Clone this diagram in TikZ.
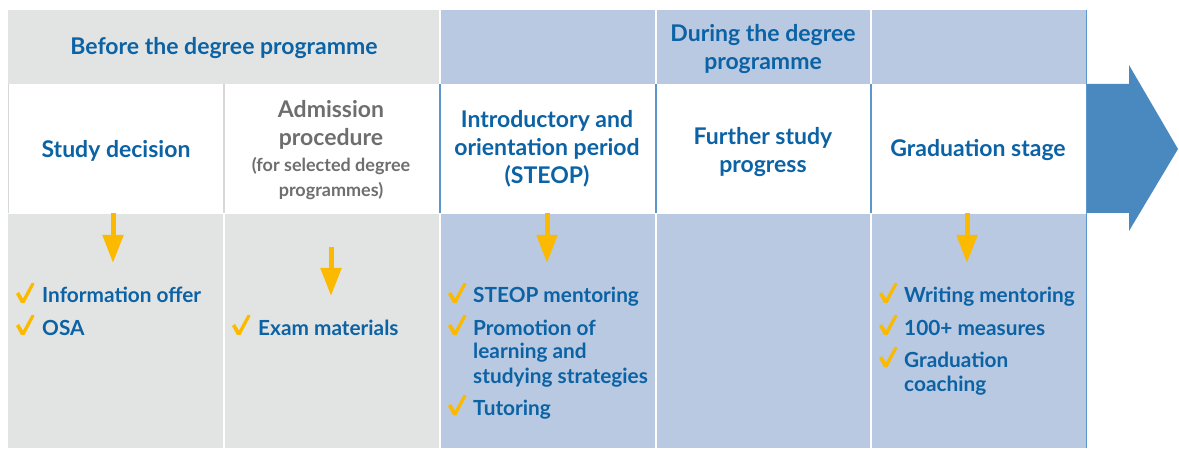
\documentclass[tikz,border=0pt]{standalone}
\usepackage{fontspec}
\setmainfont{Lato}
\usetikzlibrary{arrows.meta}
\definecolor{tblue}{HTML}{0B62A4}
\definecolor{tgray}{HTML}{6E6E6E}
\definecolor{fgray}{HTML}{E2E4E3}
\definecolor{fblue}{HTML}{B8C9E1}
\definecolor{lblue}{HTML}{5B96CC}
\definecolor{lgray}{HTML}{D8D8D8}
\definecolor{arrowblue}{HTML}{4A89BF}
\definecolor{tyellow}{HTML}{FBB900}
\newcommand{\clns}[1]{\begin{tabular}[t]{@{}c@{}}#1\end{tabular}}
\newcommand{\llns}[1]{\begin{tabular}[t]{@{}l@{}}#1\end{tabular}}
\tikzset{
  hdr/.style={text=tblue, inner sep=0pt, anchor=base, font=\bfseries\fontsize{23}{28}\selectfont},
  subhdr/.style={text=tgray, inner sep=0pt, anchor=base, font=\bfseries\fontsize{18}{25}\selectfont},
  itemtext/.style={text=tblue, inner sep=0pt, anchor=base west, font=\bfseries\fontsize{20.8}{24}\selectfont},
  yarrow/.style={draw=tyellow, line width=5pt, -{Triangle[width=20pt,length=28pt]}, tyellow},
  chk/.pic={\fill[tyellow] (0,-9) .. controls (1,-10) .. (3,-11) -- (7,-4.5) -- (15.5,-20) .. controls (17,-20.5) .. (18.5,-19) -- (8.5,0) -- (5,0) -- cycle;}
}
\begin{document}
\begin{tikzpicture}[x=1pt,y=-1pt]
\useasboundingbox (0,0) rectangle (1179,449);
% header row fills
\fill[fgray] (8,10) rectangle (439,84);
\fill[fblue] (441,10) rectangle (655,84);
\fill[fblue] (657,10) rectangle (870,84);
\fill[fblue] (872,10) rectangle (1086,84);
% bottom row fills
\fill[fgray] (8,214) rectangle (223,448);
\fill[fgray] (225,214) rectangle (439,448);
\fill[fblue] (441,214) rectangle (655,448);
\fill[fblue] (657,214) rectangle (870,448);
\fill[fblue] (872,214) rectangle (1086,448);
% middle row separators
\draw[lgray, line width=1pt] (8,84) -- (8,213);
\draw[lgray, line width=1.5pt] (224,84) -- (224,213);
\draw[lblue, line width=1.5pt] (440,84) -- (440,213);
\draw[lblue, line width=1.5pt] (656,84) -- (656,213);
\draw[lblue, line width=1.5pt] (871,84) -- (871,213);
\draw[lblue, line width=1.5pt] (1086.5,10) -- (1086.5,448);
% big arrow
\fill[arrowblue] (1087,84) -- (1129,84) -- (1129,65) -- (1178,149) -- (1129,231) -- (1129,213) -- (1087,213) -- cycle;
% header texts
\node[hdr] (before) at (224,55) {Before the degree programme};
\node[hdr] (during) at (763,42) {\clns{During the degree\\programme}};
\node[hdr] (sd) at (116,158) {Study decision};
\node[hdr, text=tgray] (adm) at (331,118) {\clns{Admission\\procedure}};
\node[subhdr] (admsub) at (331,172) {\clns{(for selected degree\\programmes)}};
\node[hdr] (steop) at (547,128) {\clns{Introductory and\\orientation period\\(STEOP)}};
\node[hdr] (further) at (763,145) {\clns{Further study\\progress}};
\node[hdr] (grad) at (978,157) {Graduation stage};
% yellow arrows
\coordinate (a1s) at (113,213); \coordinate (a1e) at (113,263);
\coordinate (a2s) at (331,247); \coordinate (a2e) at (331,296);
\coordinate (a3s) at (547,213); \coordinate (a3e) at (547,263);
\coordinate (a5s) at (967,213); \coordinate (a5e) at (967,263);
\draw[yarrow] (a1s) -- (a1e);
\draw[yarrow] (a2s) -- (a2e);
\draw[yarrow] (a3s) -- (a3e);
\draw[yarrow] (a5s) -- (a5e);
% column 1 items
\pic at (16,303) {chk};
\node[itemtext] (i11) at (42,303) {Information offer};
\pic at (16,335) {chk};
\node[itemtext] (i12) at (42,335) {OSA};
% column 2 items
\pic at (232,335) {chk};
\node[itemtext] (i21) at (258,335) {Exam materials};
% column 3 items
\pic at (448,303) {chk};
\node[itemtext] (i31) at (473,303) {STEOP mentoring};
\pic at (448,335) {chk};
\node[itemtext] (i32) at (473,335) {\llns{Promotion of\\learning and\\studying strategies}};
\pic at (448,415) {chk};
\node[itemtext] (i33) at (473,415) {Tutoring};
% column 5 items
\pic at (879,303) {chk};
\node[itemtext] (i51) at (904,303) {Writing mentoring};
\pic at (879,335) {chk};
\node[itemtext] (i52) at (904,335) {100+ measures};
\pic at (879,367) {chk};
\node[itemtext] (i53) at (904,367) {\llns{Graduation\\coaching}};
\end{tikzpicture}
\end{document}
